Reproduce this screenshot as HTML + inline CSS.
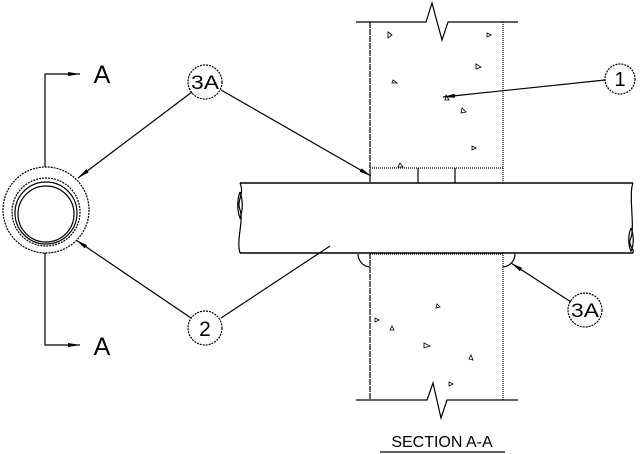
<!DOCTYPE html>
<html><head><style>body{margin:0;background:#fff}svg{display:block}</style></head><body>
<svg width="640" height="454" viewBox="0 0 640 454" xmlns="http://www.w3.org/2000/svg" font-family="Liberation Sans, sans-serif">
<defs><marker id="a" markerWidth="12" markerHeight="6" refX="12" refY="3" orient="auto" markerUnits="userSpaceOnUse"><path d="M0,1 L12,3 L0,5z" fill="#000"/></marker></defs>
<g stroke="#000" fill="none" stroke-width="1.2">
<path d="M45,167 V74 H80" marker-end="url(#a)"/>
<path d="M45,253 V345 H80" marker-end="url(#a)"/>
<circle cx="46" cy="210" r="43" stroke-dasharray="2,1"/>
<circle cx="46" cy="212" r="34" stroke-dasharray="2,1"/>
<circle cx="46" cy="213" r="31"/>
<circle cx="46" cy="214" r="28"/>
<path d="M356,22 H426 L432,3 L442,40 L448,22 H518"/>
<path d="M356,400 H427 L433,383 L441,418 L447,400 H518"/>
<path d="M370,22 V183 M370,253 V400" stroke-dasharray="6,1"/>
<path d="M503,22 V183 M503,253 V400" stroke-dasharray="1,1"/>
<path d="M370,168 H503" stroke-dasharray="1,1"/>
<path d="M418,168 V183 M455,168 V183" />
<path d="M370,254 H503" stroke-dasharray="1,1"/>
<path d="M240,183 H633 M240,253 H633" stroke-width="1.4"/>
<path d="M240,183 C245,195 236,200 240,210 C244,220 236,240 240,253"/>
<path d="M633,183 C628,195 636,230 630,240 C628,245 635,250 633,253"/>
<path d="M240,192 C243,200 243,210 240,218 C237,210 237,200 240,192"/>
<path d="M631,228 C634,235 634,245 631,251 C628,245 628,235 631,228"/>
<path d="M358,254 A13,13 0 0 0 370,267 M515,254 A13,13 0 0 1 503,267"/>
<circle cx="205" cy="82" r="17" stroke-dasharray="2,1"/>
<circle cx="205" cy="328" r="17" stroke-dasharray="2,1"/>
<circle cx="620" cy="79" r="15" stroke-dasharray="2,1"/>
<circle cx="585" cy="310" r="17" stroke-dasharray="2,1"/>
<path d="M192,92 L78,178" marker-end="url(#a)"/>
<path d="M221,90 L371,176" marker-end="url(#a)"/>
<path d="M191,318 L76,240" marker-end="url(#a)"/>
<path d="M221,318 L330,246"/>
<path d="M605,80 L443,97" marker-end="url(#a)"/>
<path d="M571,302 L511,263" marker-end="url(#a)"/>
<path d="M380,452 H505"/>
</g>
<g fill="none" stroke="#000" stroke-width="0.8">
<path d="M388,32 l4,3 l-4,3z M476,64 l5,3 l-5,2z M393,80 l4,3 l-5,0z M446,95 l3,5 l-4,0z M462,108 l4,4 l-5,1z M472,146 l4,2 l-4,2z M400,163 l3,4 l-5,0z M375,318 l4,2 l-4,2z M392,326 l2,4 l-4,0z M424,343 l6,3 l-6,2z M471,355 l2,5 l-4,-1z M449,382 l4,2 l-4,2z M437,304 l3,3 l-4,1z M487,33 l4,2 l-4,2z"/>
</g>
<g font-size="19" fill="#000" text-anchor="middle">
<text x="102" y="83" font-size="25">A</text>
<text x="102" y="355" font-size="25">A</text>
<text x="205" y="89" textLength="28" lengthAdjust="spacingAndGlyphs">3A</text>
<text x="205" y="336" font-size="21">2</text>
<text x="620" y="86" font-size="20">1</text>
<text x="585" y="317" textLength="28" lengthAdjust="spacingAndGlyphs">3A</text>
<text x="442" y="447" font-size="16">SECTION A-A</text>
</g>
</svg>
</body></html>
